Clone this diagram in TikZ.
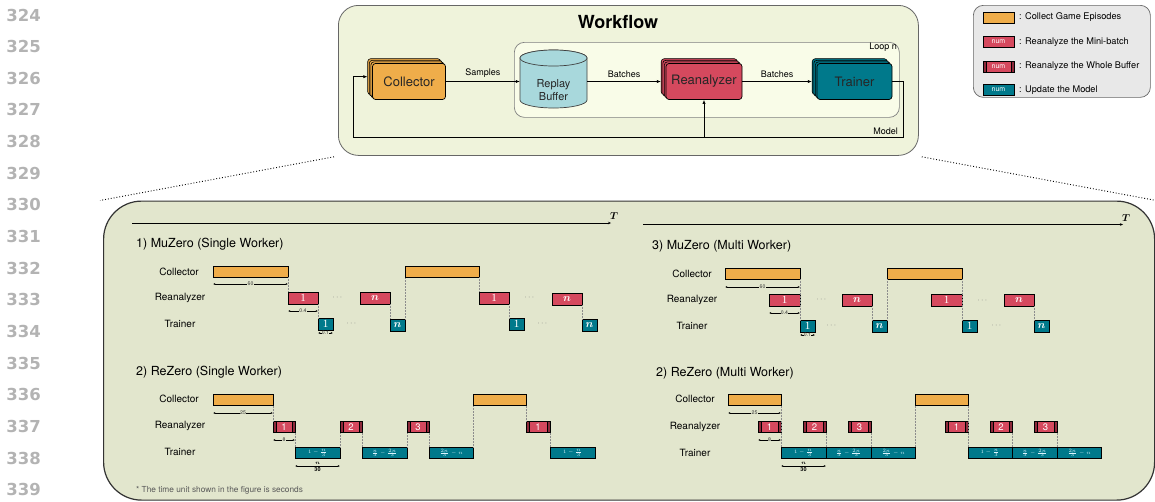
\documentclass[tikz,border=0pt]{standalone}
\usepackage{amsmath}
\usepackage{fontspec}
\setmainfont{TeX Gyre Heros}
\newfontfamily\numfont{DejaVu Sans}
\newfontfamily\serfont{Liberation Serif}
\usetikzlibrary{arrows.meta,shadows}
\definecolor{corange}{HTML}{EFAD4A}
\definecolor{cred}{HTML}{D5495E}
\definecolor{cdred}{HTML}{8E2A3B}
\definecolor{cteal}{HTML}{00798B}
\definecolor{cpanel}{HTML}{E2E6CD}
\definecolor{ctop}{HTML}{EFF3DB}
\definecolor{cloop}{HTML}{F9FCE8}
\definecolor{ccyl}{HTML}{A8D8DC}
\definecolor{cleg}{HTML}{E8E8E8}
\definecolor{cnum}{HTML}{B3B3B3}
\newcommand{\tbx}[7]{\node[#1, anchor=north west, minimum width={(#4-#3)*1pt}, minimum height={(#6-#5)*1pt}] (#2) at (#3,#5) {#7};}
\newcommand{\trl}[1]{\fontsize{4.8}{5}\selectfont$#1$}
\newcommand{\one}{{\serfont 1}}
\begin{document}
\begin{tikzpicture}[x=1pt,y=-1pt,
  linenum/.style={anchor=east, font=\numfont\bfseries\fontsize{16.5}{18}\selectfont, text=cnum, inner sep=0pt},
  lab/.style={font=\fontsize{9}{10}\selectfont, inner sep=1pt},
  arr/.style={-{Latex[length=4pt,width=3.2pt]}, line width=0.6pt},
  stackbox/.style={draw=black, line width=0.7pt, rounded corners=3pt, fill=#1,
    general shadow={shadow xshift=-4.8pt, shadow yshift=4.8pt, fill=#1, draw=black, line width=0.6pt},
    general shadow={shadow xshift=-3.2pt, shadow yshift=3.2pt, fill=#1, draw=black, line width=0.6pt},
    general shadow={shadow xshift=-1.6pt, shadow yshift=1.6pt, fill=#1, draw=black, line width=0.6pt},
    minimum height=36pt, font=\fontsize{13}{15}\selectfont, text=black!85},
  tlbox/.style={draw=black, line width=0.8pt, inner sep=0pt, outer sep=0pt},
  orbox/.style={tlbox, fill=corange},
  redbox/.style={tlbox, fill=cred, text=white, font=\fontsize{9.5}{10}\selectfont},
  mredbox/.style={redbox, font=\fontsize{11}{11}\selectfont},
  wholebox/.style={redbox, path picture={
     \fill[cdred] (path picture bounding box.north west) rectangle ([xshift=3pt]path picture bounding box.south west);
     \fill[cdred] (path picture bounding box.north east) rectangle ([xshift=-3pt]path picture bounding box.south east);
     \draw[line width=0.6pt] ([xshift=3pt]path picture bounding box.north west) -- ([xshift=3pt]path picture bounding box.south west);
     \draw[line width=0.6pt] ([xshift=-3pt]path picture bounding box.north east) -- ([xshift=-3pt]path picture bounding box.south east);}},
  tealbox/.style={tlbox, fill=cteal, text=white, font=\fontsize{11}{11}\selectfont},
  trbox/.style={tlbox, fill=cteal, text=cyan!15!white},
  dimarr/.style={{Latex[length=2.2pt,width=2pt]}-{Latex[length=2.2pt,width=2pt]}, line width=0.45pt},
  dlab/.style={font=\fontsize{5.2}{6}\selectfont, fill=cpanel, inner sep=0.3pt, text=black!80},
  vd/.style={densely dotted, black!45, line width=0.5pt},
  rowlab/.style={font=\fontsize{10}{12}\selectfont, inner sep=0pt},
  sectitle/.style={anchor=west, font=\fontsize{12.5}{14}\selectfont, inner sep=0pt},
  dots/.style={text=black!55, font=\fontsize{8}{9}\selectfont, inner sep=0pt},
  legtxt/.style={anchor=west, font=\fontsize{9.2}{10}\selectfont, inner sep=0pt},
  lbox/.style={draw=black, line width=0.7pt, minimum width=31pt, minimum height=11pt, inner sep=0pt, font=\fontsize{7}{8}\selectfont, text=white}
]
\useasboundingbox (0,0) rectangle (1155,501);

% line numbers
\foreach \i in {0,...,15}{
  \pgfmathsetmacro\yy{15+31.65*\i}
  \pgfmathtruncatemacro\nn{324+\i}
  \node[linenum] (ln\i) at (41,\yy) {\nn};
}

% ================= Workflow box =================
\node[draw=black!60, line width=0.8pt, fill=ctop, rounded corners=20pt, anchor=north west,
      minimum width=580pt, minimum height=150pt, inner sep=0pt] (wf) at (338,5) {};
\node[font=\fontsize{18}{20}\selectfont\bfseries] (wft) at (618,22) {Workflow};
\node[draw=black!50, line width=0.7pt, fill=cloop, rounded corners=10pt, anchor=north west,
      minimum width=385pt, minimum height=75pt, inner sep=0pt] (loop) at (514,42) {};
\node[lab, anchor=east] (looplab) at (898,47.5) {Loop n};

\node[stackbox=corange, minimum width=73pt] (col) at (409,81.5) {Collector};
\node[stackbox=cred, minimum width=76pt] (rea) at (704,81.5) {Reanalyzer};
\node[stackbox=cteal, minimum width=75pt] (tr) at (854.5,81.5) {Trainer};

% replay buffer cylinder
\draw[fill=ccyl, draw=black!75, line width=0.7pt] (520,58) -- (520,100)
   arc[start angle=180, end angle=360, x radius=33.5pt, y radius=8pt] -- (587,58)
   arc[start angle=0, end angle=180, x radius=33.5pt, y radius=8pt] -- cycle;
\draw[fill=ccyl, draw=black!75, line width=0.7pt] (553.5,58) ellipse [x radius=33.5pt, y radius=8pt];
\node[minimum width=67pt, minimum height=58pt, inner sep=0pt] (rb) at (553.5,81.5) {};
\node[align=center, font=\fontsize{11}{13.5}\selectfont, text=black!85, inner sep=0pt] (rbt) at (553.5,90) {Replay\\Buffer};

\draw[arr] (col.east) -- node[lab, above=2.5pt]{Samples} (rb.west);
\draw[arr] (rb.east) -- node[lab, above=2.5pt]{Batches} ([xshift=-4.8pt]rea.west);
\draw[arr] (rea.east) -- node[lab, above=2.5pt]{Batches} ([xshift=-4.8pt]tr.west);
\coordinate (mr) at (903,137);
\coordinate (ml) at (353,137);
\draw[arr] (tr.east) -| (mr) -- (ml) |- ([shift={(-4.8pt,4.8pt)}]col.west);
\draw[arr] (rea.south |- ml) -- (rea.south);
\node[lab, anchor=east] (mlab) at (899,131) {Model};

% ================= Legend =================
\node[draw=black!60, line width=0.7pt, fill=cleg, rounded corners=10pt, anchor=north west,
      minimum width=177pt, minimum height=92pt, inner sep=0pt] (leg) at (973,5) {};
\node[lbox, fill=corange] (lg1) at (998.5,17.5) {};
\node[legtxt] (lt1) at (1019,17.5) {: Collect Game Episodes};
\node[lbox, fill=cred] (lg2) at (998.5,42) {num};
\node[legtxt] (lt2) at (1019,42) {: Reanalyze the Mini-batch};
\node[lbox, wholebox, font=\fontsize{7}{8}\selectfont] (lg3) at (998.5,66.5) {num};
\node[legtxt] (lt3) at (1019,66.5) {: Reanalyze the Whole Buffer};
\node[lbox, fill=cteal] (lg4) at (998.5,90) {num};
\node[legtxt] (lt4) at (1019,90) {: Update the Model};

% ================= Timeline panel =================
\node[draw=black!80, line width=1.2pt, fill=cpanel, rounded corners=38pt, anchor=north west,
      minimum width=1051pt, minimum height=299pt, inner sep=0pt] (pan) at (103,200.5) {};
\draw[dotted, line width=0.9pt] ([shift={(-4pt,-1pt)}]wf.south west) -- ([shift={(-3pt,0pt)}]pan.north west);
\draw[dotted, line width=0.9pt] ([shift={(3pt,-1pt)}]wf.south east) -- ([shift={(1pt,0pt)}]pan.north east);

% axes
\coordinate (ax1s) at (132,223);
\coordinate (ax1e) at (611,223);
\coordinate (ax2s) at (643,224.5);
\coordinate (ax2e) at (1123,224.5);
\draw[line width=0.9pt, -{Stealth[length=3pt,width=2.5pt]}] (ax1s) -- (ax1e);
\draw[line width=0.9pt, -{Stealth[length=3pt,width=2.5pt]}] (ax2s) -- (ax2e);
\node[font=\fontsize{10}{12}\selectfont, inner sep=0pt] (T1) at (614,216.5) {$\boldsymbol{T}$};
\node[font=\fontsize{10}{12}\selectfont, inner sep=0pt] (T2) at (1126,218) {$\boldsymbol{T}$};

% ---------- 1) MuZero single ----------
\node[sectitle] (s1) at (136,244) {1) MuZero (Single Worker)};
\node[rowlab] (s1c) at (179,272) {Collector};
\node[rowlab] (s1r) at (180,298) {Reanalyzer};
\node[rowlab] (s1t) at (180,323.5) {Trainer};
\tbx{orbox}{aC1}{213}{288}{266}{277}{}
\tbx{mredbox}{aR1}{288}{318}{292}{304}{\one}
\tbx{tealbox}{aT1}{318}{333}{318}{330}{\one}
\tbx{mredbox}{aRn}{360}{390}{292}{304}{$\boldsymbol{n}$}
\tbx{tealbox}{aTn}{390}{405}{319}{331}{$\boldsymbol{n}$}
\tbx{orbox}{aC2}{405}{479}{266}{277}{}
\tbx{mredbox}{aR1b}{479}{509}{292}{304}{\one}
\tbx{tealbox}{aT1b}{509}{524}{318}{330}{\one}
\tbx{mredbox}{aRnb}{552}{582}{293}{305}{$\boldsymbol{n}$}
\tbx{tealbox}{aTnb}{582}{597}{319}{331}{$\boldsymbol{n}$}
\node[dots] (ad1) at (338,298) {$\cdots$};
\node[dots] (ad2) at (352,323.5) {$\cdots$};
\node[dots] (ad3) at (530,298) {$\cdots$};
\node[dots] (ad4) at (543,323.5) {$\cdots$};
\draw[vd] (aC1.south east) -- (aR1.north west);
\draw[vd] (aR1.south east) -- (aT1.north west);
\draw[vd] (aRn.south east) -- (aTn.north west);
\draw[vd] (aTn.north east) -- (aC2.south west);
\draw[vd] (aC2.south east) -- (aR1b.north west);
\draw[vd] (aR1b.south east) -- (aT1b.north west);
\draw[vd] (aRnb.south east) -- (aTnb.north west);
\draw[dimarr] ([yshift=-7pt]aC1.south west) -- node[dlab]{60} ([yshift=-7pt]aC1.south east);
\draw[dimarr] ([yshift=-7pt]aR1.south west) -- node[dlab]{0.4} ([yshift=-7pt]aR1.south east);
\draw[dimarr] ([yshift=-3pt]aT1.south west) -- node[dlab]{0.1} ([yshift=-3pt]aT1.south east);

% ---------- 3) MuZero multi ----------
\node[sectitle] (s3) at (652,246) {3) MuZero (Multi Worker)};
\node[rowlab] (s3c) at (692,274) {Collector};
\node[rowlab] (s3r) at (692,300) {Reanalyzer};
\node[rowlab] (s3t) at (692,326) {Trainer};
\tbx{orbox}{cC1}{725}{800}{268}{279}{}
\tbx{mredbox}{cR1}{769}{800}{294}{306}{\one}
\tbx{tealbox}{cT1}{800}{815}{320}{332}{\one}
\tbx{mredbox}{cRn}{842}{872}{294}{306}{$\boldsymbol{n}$}
\tbx{tealbox}{cTn}{872}{887}{320}{332}{$\boldsymbol{n}$}
\tbx{orbox}{cC2}{887}{962}{268}{279}{}
\tbx{mredbox}{cR1b}{931}{962}{294}{306}{\one}
\tbx{tealbox}{cT1b}{962}{977}{320}{332}{\one}
\tbx{mredbox}{cRnb}{1004}{1034}{294}{306}{$\boldsymbol{n}$}
\tbx{tealbox}{cTnb}{1034}{1049}{320}{332}{$\boldsymbol{n}$}
\node[dots] (cd1) at (822,300) {$\cdots$};
\node[dots] (cd2) at (832,326) {$\cdots$};
\node[dots] (cd3) at (983,300.5) {$\cdots$};
\node[dots] (cd4) at (997,326) {$\cdots$};
\draw[vd] (cC1.south east) -- (cT1.north west);
\draw[vd] (cRn.south east) -- (cTn.north west);
\draw[vd] (cTn.north east) -- (cC2.south west);
\draw[vd] (cC2.south east) -- (cT1b.north west);
\draw[vd] (cRnb.south east) -- (cTnb.north west);
\draw[dimarr] ([yshift=-8pt]cC1.south west) -- node[dlab]{60} ([yshift=-8pt]cC1.south east);
\draw[dimarr] ([yshift=-7pt]cR1.south west) -- node[dlab]{0.4} ([yshift=-7pt]cR1.south east);
\draw[dimarr] ([yshift=-3pt]cT1.south west) -- node[dlab]{0.1} ([yshift=-3pt]cT1.south east);

% ---------- 2) ReZero single ----------
\node[sectitle] (s2) at (136,372) {2) ReZero (Single Worker)};
\node[rowlab] (s2c) at (179,399) {Collector};
\node[rowlab] (s2r) at (180,426) {Reanalyzer};
\node[rowlab] (s2t) at (180,452) {Trainer};
\tbx{orbox}{bC1}{213}{273}{394}{405.5}{}
\tbx{wholebox}{bR1}{273}{295}{421}{432.5}{1}
\tbx{trbox}{bT1}{295}{340}{447}{458.5}{\trl{1-\frac{n}{3}}}
\tbx{wholebox}{bR2}{340}{362}{421}{432.5}{2}
\tbx{trbox}{bT2}{362}{407}{447}{458.5}{\trl{\frac{n}{3}-\frac{2n}{3}}}
\tbx{wholebox}{bR3}{407}{429}{421}{432.5}{3}
\tbx{trbox}{bT3}{429}{473}{447}{458.5}{\trl{\frac{2n}{3}-n}}
\tbx{orbox}{bC2}{473}{526}{394}{405.5}{}
\tbx{wholebox}{bR4}{526}{550}{421}{432.5}{1}
\tbx{trbox}{bT4}{550}{595}{447}{458.5}{\trl{1-\frac{n}{3}}}
\draw[vd] (bC1.south east) -- (bR1.north west);
\draw[vd] (bR1.south east) -- (bT1.north west);
\draw[vd] (bT1.north east) -- (bR2.south west);
\draw[vd] (bR2.south east) -- (bT2.north west);
\draw[vd] (bT2.north east) -- (bR3.south west);
\draw[vd] (bR3.south east) -- (bT3.north west);
\draw[vd] (bT3.north east) -- (bC2.south west);
\draw[vd] (bC2.south east) -- (bR4.north west);
\draw[vd] (bR4.south east) -- (bT4.north west);
\draw[dimarr] ([yshift=-7.5pt]bC1.south west) -- node[dlab]{25} ([yshift=-7.5pt]bC1.south east);
\draw[dimarr] ([yshift=-7.5pt]bR1.south west) -- node[dlab]{8} ([yshift=-7.5pt]bR1.south east);
\draw[dimarr] ([yshift=-7.5pt]bT1.south west) -- node[font=\fontsize{5.5}{6}\selectfont\bfseries, above, inner sep=0.8pt]{$\boldsymbol{n}$} node[font=\fontsize{5.5}{6}\selectfont\bfseries, below, inner sep=0.8pt]{30} ([yshift=-7.5pt]bT1.south east);

% ---------- 2) ReZero multi ----------
\node[sectitle] (s4) at (656,373) {2) ReZero (Multi Worker)};
\node[rowlab] (s4c) at (695,399) {Collector};
\node[rowlab] (s4r) at (695,427) {Reanalyzer};
\node[rowlab] (s4t) at (695,453) {Trainer};
\tbx{orbox}{dC1}{728}{781}{394}{405.5}{}
\tbx{wholebox}{dR1}{758}{781}{421}{432.5}{1}
\tbx{trbox}{dT1}{781}{826}{447}{458.5}{\trl{1-\frac{n}{3}}}
\tbx{wholebox}{dR2}{803}{826}{421}{432.5}{2}
\tbx{trbox}{dT2}{826}{871}{447}{458.5}{\trl{\frac{n}{3}-\frac{2n}{3}}}
\tbx{wholebox}{dR3}{848}{871}{421}{432.5}{3}
\tbx{trbox}{dT3}{871}{915}{447}{458.5}{\trl{\frac{2n}{3}-n}}
\tbx{orbox}{dC2}{915}{968}{394}{405.5}{}
\tbx{wholebox}{dR4}{945}{968}{421}{432.5}{1}
\tbx{trbox}{dT4}{968}{1012}{447}{458.5}{\trl{1-\frac{n}{3}}}
\tbx{wholebox}{dR5}{990}{1012}{421}{432.5}{2}
\tbx{trbox}{dT5}{1012}{1057}{447}{458.5}{\trl{\frac{n}{3}-\frac{2n}{3}}}
\tbx{wholebox}{dR6}{1034}{1057}{421}{432.5}{3}
\tbx{trbox}{dT6}{1057}{1101}{447}{458.5}{\trl{\frac{2n}{3}-n}}
\draw[vd] (dC1.south east) -- (dT1.north west);
\draw[vd] (dR2.south east) -- (dT1.north east);
\draw[vd] (dR3.south east) -- (dT2.north east);
\draw[vd] (dC2.south west) -- (dT3.north east);
\draw[vd] (dC2.south east) -- (dT4.north west);
\draw[vd] (dR5.south east) -- (dT4.north east);
\draw[vd] (dR6.south east) -- (dT5.north east);
\draw[dimarr] ([yshift=-7.5pt]dC1.south west) -- node[dlab]{25} ([yshift=-7.5pt]dC1.south east);
\draw[dimarr] ([yshift=-7.5pt]dR1.south west) -- node[dlab]{8} ([yshift=-7.5pt]dR1.south east);
\draw[dimarr] ([yshift=-7.5pt]dT1.south west) -- node[font=\fontsize{5.5}{6}\selectfont\bfseries, above, inner sep=0.8pt]{$\boldsymbol{n}$} node[font=\fontsize{5.5}{6}\selectfont\bfseries, below, inner sep=0.8pt]{30} ([yshift=-7.5pt]dT1.south east);

% footnote
\node[anchor=west, font=\fontsize{8.3}{10}\selectfont, text=black!65, inner sep=0pt] (fn) at (136,490.5) {* The time unit shown in the figure is seconds};
\end{tikzpicture}
\end{document}
